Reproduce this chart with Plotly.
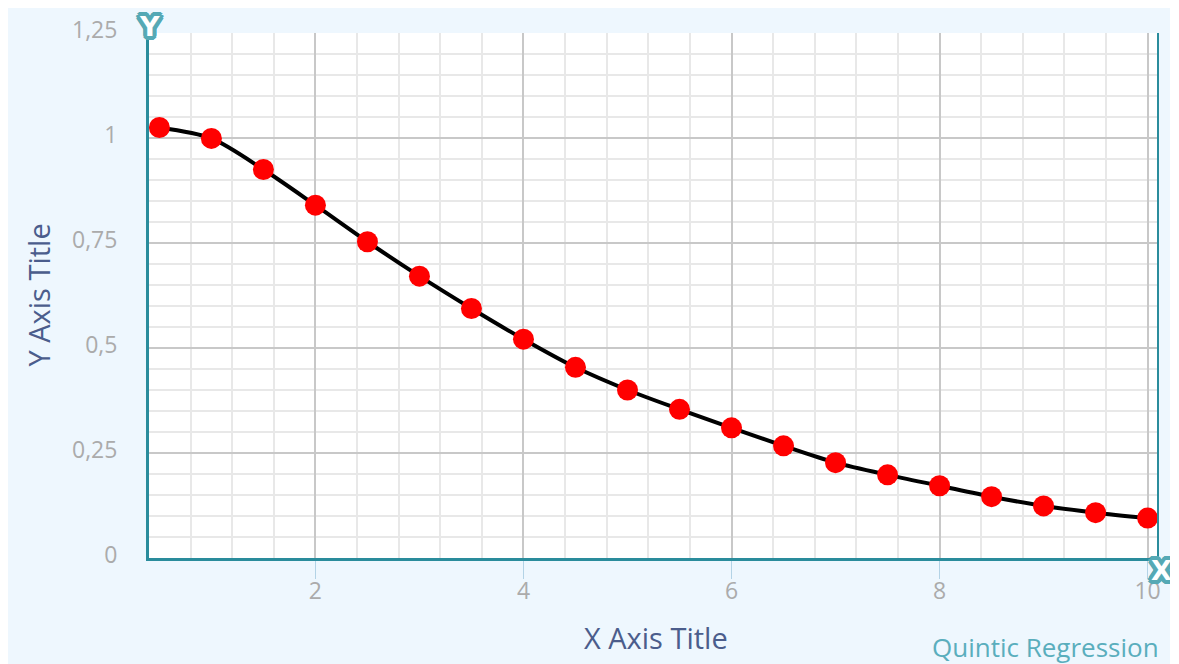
import math
import plotly.graph_objects as go

x_values = [0.5, 1.0, 1.5, 2.0, 2.5, 3.0, 3.5, 4.0, 4.5, 5.0,
            5.5, 6.0, 6.5, 7.0, 7.5, 8.0, 8.5, 9.0, 9.5, 10.0]
y_values = [1.025, 0.999, 0.925, 0.840, 0.753, 0.671, 0.594, 0.521, 0.454, 0.400,
            0.354, 0.310, 0.267, 0.227, 0.198, 0.172, 0.146, 0.124, 0.108, 0.095]

x_title = "X Axis Title"
y_title = "Y Axis Title"
series_label = "Quintic Regression"

TEAL = "#2a8c9c"
ICON = "#55a9b5"
FONT = "Open Sans"
BG = "#eef7fe"

fig = go.Figure()
fig.add_trace(go.Scatter(
    x=x_values, y=y_values, mode="lines+markers",
    line=dict(color="black", width=4, shape="spline", smoothing=0.8),
    marker=dict(color="#ff0000", size=21, line=dict(width=0)),
    showlegend=False, cliponaxis=False,
))

offs = []
for r in (2, 4):
    for k in range(16):
        a = 2 * math.pi * k / 16
        offs.append(f"{r*math.cos(a):.1f}px {r*math.sin(a):.1f}px 0 {ICON}")
shadow = ", ".join(offs)

fig.update_layout(
    width=1162, height=656,
    margin=dict(l=141, r=12, t=25, b=106, autoexpand=False),
    paper_bgcolor=BG, plot_bgcolor="white",
    separators=", ",
    font=dict(family=FONT),
    xaxis=dict(
        range=[0.4, 10.1], tick0=0, dtick=2, showgrid=True, automargin=False,
        gridcolor="#c8c8c8", gridwidth=2,
        minor=dict(dtick=0.4, showgrid=True, gridcolor="#e8e8e8", gridwidth=1.5),
        showline=True, linecolor=TEAL, linewidth=3,
        ticks="outside", ticklen=18, tickcolor="#b3d3e6", tickwidth=1,
        ticklabelstandoff=-8,
        tickfont=dict(size=23, color="#ababab", family=FONT),
        zeroline=False,
    ),
    yaxis=dict(
        range=[0, 1.25], tick0=0, dtick=0.25, showgrid=True, automargin=False,
        gridcolor="#c8c8c8", gridwidth=2,
        minor=dict(dtick=0.05, showgrid=True, gridcolor="#e8e8e8", gridwidth=1.5),
        showline=True, linecolor=TEAL, linewidth=3,
        ticks="", ticklabelstandoff=24, ticklabelshift=-3,
        tickfont=dict(size=23, color="#ababab", family=FONT),
        zeroline=False,
    ),
    shapes=[
        dict(type="line", xref="paper", yref="paper", x0=1, x1=1, y0=0, y1=1,
             line=dict(color=TEAL, width=2)),
    ],
    annotations=[
        dict(text=y_title, xref="paper", yref="paper", x=-0.110, y=0.5,
             showarrow=False, xanchor="center", yanchor="middle", textangle=-90,
             font=dict(size=29, color="#4b5d8c", family=FONT)),
        dict(text=x_title, xref="paper", yref="paper", x=0.502, y=-0.152,
             showarrow=False, xanchor="center", yanchor="middle",
             font=dict(size=29, color="#4b5d8c", family=FONT)),
        dict(text=series_label, xref="paper", yref="paper", x=1.003, y=-0.170,
             showarrow=False, xanchor="right", yanchor="middle",
             font=dict(size=26, color="#5aaebd", family=FONT)),
        dict(text="<b>Y</b>", xref="paper", yref="paper", x=0, y=1.012,
             showarrow=False, xanchor="center", yanchor="middle",
             font=dict(size=27, color="white", family="DejaVu Sans", shadow=shadow)),
        dict(text="<b>X</b>", xref="paper", yref="paper", x=1.003, y=-0.024,
             showarrow=False, xanchor="center", yanchor="middle",
             font=dict(size=27, color="white", family="DejaVu Sans", shadow=shadow)),
    ],
)

fig.write_html("out.html")
